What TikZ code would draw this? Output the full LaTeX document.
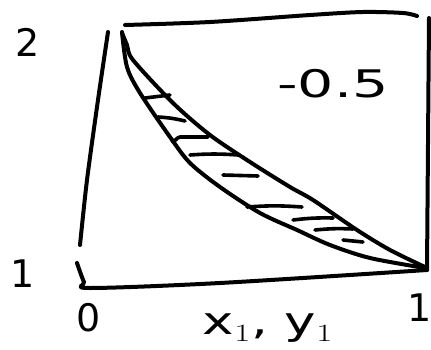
\documentclass[tikz,border=0pt]{standalone}
\usepackage{graphicx}
\usepackage{fontspec}
\setmainfont{DejaVu Sans}
\begin{document}
\begin{tikzpicture}[x=1pt,y=-1pt,
  pen/.style={line width=4pt,line cap=round,line join=round,black},
  hatch/.style={line width=3.6pt,line cap=round,black},
  lbl/.style={inner sep=0pt,font=\fontsize{38}{42}\selectfont}]
\useasboundingbox (0,0) rectangle (431,350);
% frame
\draw[pen] plot[smooth] coordinates {(108,32) (98,100) (87,180) (80,245)};
\draw[pen] plot[smooth] coordinates {(77,263) (84,282) (90,288) (220,283) (427,270)};
\draw[pen] plot[smooth] coordinates {(125,25) (210,22) (310,15) (363,12) (403,13) (417,16)};
\draw[pen] (429,18) -- (427,270);
% curves
\draw[pen] plot[smooth] coordinates {(122,33) (127,45) (133,60) (173,103) (210,135) (250,162) (290,187) (313,200) (357,230) (390,250) (425,267)};
\draw[pen] plot[smooth] coordinates {(122,32) (127,67) (140,93) (170,137) (190,163) (220,187) (260,213) (297,230) (330,245) (370,258) (425,268)};
% hatching
\draw[hatch] (145,98) -- (170,95);
\draw[hatch] (158,117) to[bend left=5] (185,121);
\draw[hatch] (172,141) to[out=-60,in=180] (180,137) -- (208,137);
\draw[hatch] (190,155) to[bend left=4] (238,155);
\draw[hatch] (223,175) -- (258,176);
\draw[hatch] (247,207) to[bend left=4] (302,207);
\draw[hatch] (293,220) to[bend left=4] (333,218);
\draw[hatch] (315,230) to[bend left=4] (353,229);
\draw[hatch] (343,240) -- (363,242);
% labels
\node[lbl] (ytop) at (28,42) {2};
\node[lbl] (ybot) at (23,274) {1};
\node[lbl] (xl) at (89,318) {0};
\node[lbl] (xlab) at (268,328) {\scalebox{1.4}[1]{x$_1$, y$_1$}};
\node[lbl] (xr) at (420,308) {1};
\node[lbl] (val) at (333,84) {\scalebox{1.5}[1]{-0.5}};
\end{tikzpicture}
\end{document}
